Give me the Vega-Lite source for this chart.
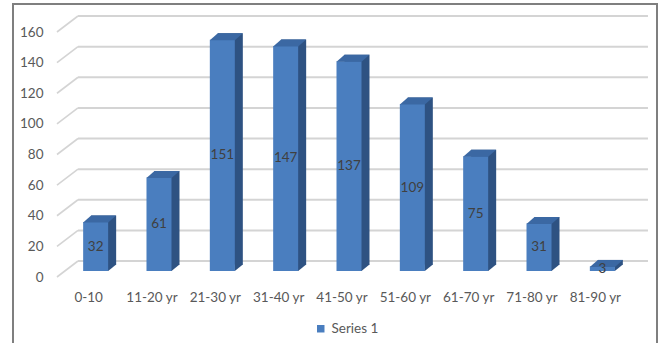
{
  "$schema": "https://vega.github.io/schema/vega-lite/v6.json",
  "width": 644,
  "height": 346,
  "autosize": {"type": "none"},
  "padding": {"left": 13, "top": 4, "right": 4, "bottom": 0},
  "background": "#ffffff",
  "datasets": {
    "ages": [
      {"age": "0-10", "n": 32},
      {"age": "11-20 yr", "n": 61},
      {"age": "21-30 yr", "n": 151},
      {"age": "31-40 yr", "n": 147},
      {"age": "41-50 yr", "n": 137},
      {"age": "51-60 yr", "n": 109},
      {"age": "61-70 yr", "n": 75},
      {"age": "71-80 yr", "n": 31},
      {"age": "81-90 yr", "n": 3}
    ],
    "grid": [
      {"g": 0}, {"g": 20}, {"g": 40}, {"g": 60}, {"g": 80},
      {"g": 100}, {"g": 120}, {"g": 140}, {"g": 160}
    ]
  },
  "data": {"name": "ages"},
  "layer": [
    {
      "layer": [
        {
          "data": {"name": "grid"},
          "mark": {"type": "rule", "color": "#d4d4d4", "strokeWidth": 2, "xOffset": 21, "x2Offset": 84.3, "yOffset": -16, "y2Offset": -16},
          "encoding": {
            "x": {"datum": "0-10", "type": "nominal", "bandPosition": 0, "title": null,
                  "scale": {"domain": ["0-10", "11-20 yr", "21-30 yr", "31-40 yr", "41-50 yr", "51-60 yr", "61-70 yr", "71-80 yr", "81-90 yr"], "paddingInner": 0, "paddingOuter": 0.584, "align": 0.5946}},
            "x2": {"datum": "81-90 yr", "bandPosition": 0},
            "y": {"field": "g", "type": "quantitative", "title": null,
                  "scale": {"domain": [-47.673, 178.286], "nice": false, "zero": false},
                  "axis": {"values": [0, 20, 40, 60, 80, 100, 120, 140, 160]}},
            "y2": {"field": "g"}
          }
        },
        {
          "data": {"name": "grid"},
          "mark": {"type": "rule", "color": "#d4d4d4", "strokeWidth": 1.6, "xOffset": 0, "x2Offset": 21, "yOffset": 0, "y2Offset": -16},
          "encoding": {
            "x": {"datum": "0-10", "type": "nominal", "bandPosition": 0, "title": null},
            "x2": {"datum": "0-10", "bandPosition": 0},
            "y": {"field": "g", "type": "quantitative", "title": null,
                  "scale": {"domain": [-47.673, 178.286], "nice": false, "zero": false},
                  "axis": {"values": [0, 20, 40, 60, 80, 100, 120, 140, 160]}},
            "y2": {"field": "g"}
          }
        },
        {
          "mark": {"type": "bar", "width": 25, "color": "#2e5282", "xOffset": 15, "yOffset": -12.5, "y2Offset": -12.5},
          "encoding": {
            "x": {"field": "age", "type": "nominal", "title": null},
            "y": {"field": "n", "type": "quantitative", "title": null,
                  "scale": {"domain": [-47.673, 178.286], "nice": false, "zero": false},
                  "axis": {"values": [0, 20, 40, 60, 80, 100, 120, 140, 160]}},
            "y2": {"datum": 0}
          }
        },
        {
          "mark": {"type": "point", "filled": true, "opacity": 1, "strokeWidth": 0, "size": 4, "color": "#2e5282",
                   "shape": "M19,-13L27.5,-13L27.5,-12.5L19.5,-6L19,-6Z"},
          "encoding": {
            "x": {"field": "age", "type": "nominal", "title": null},
            "y": {"datum": 0, "type": "quantitative",
                  "scale": {"domain": [-47.673, 178.286], "nice": false, "zero": false},
                  "axis": {"values": [0, 20, 40, 60, 80, 100, 120, 140, 160]}}
          }
        },
        {
          "mark": {"type": "bar", "width": 25, "xOffset": 7, "yOffset": -6, "y2Offset": -6},
          "encoding": {
            "x": {"field": "age", "type": "nominal", "title": null},
            "y": {"field": "n", "type": "quantitative", "title": null,
                  "scale": {"domain": [-47.673, 178.286], "nice": false, "zero": false},
                  "axis": {"values": [0, 20, 40, 60, 80, 100, 120, 140, 160]}},
            "y2": {"datum": 0},
            "color": {"datum": "Series 1", "type": "nominal",
                      "scale": {"range": ["#4a7ebf"]},
                      "legend": {"orient": "none", "legendX": 301, "legendY": 318, "title": null, "padding": 0,
                                 "symbolType": "square", "symbolSize": 56, "symbolStrokeWidth": 0,
                                 "labelFont": "Lato", "labelFontSize": 13.5, "labelColor": "#595959"}}
          }
        },
        {
          "mark": {"type": "point", "filled": true, "opacity": 1, "strokeWidth": 0, "size": 4, "color": "#3b68a3",
                   "shape": "M-5.5,-5.5L19.5,-5.5L27.5,-12.5L2.5,-12.5Z"},
          "encoding": {
            "x": {"field": "age", "type": "nominal", "title": null},
            "y": {"field": "n", "type": "quantitative", "title": null,
                  "scale": {"domain": [-47.673, 178.286], "nice": false, "zero": false},
                  "axis": {"values": [0, 20, 40, 60, 80, 100, 120, 140, 160]}}
          }
        }
      ]
    },
    {
      "mark": {"type": "text", "font": "Lato", "fontSize": 13.5, "color": "#404040", "dx": 7, "dy": -6, "baseline": "middle", "align": "center"},
      "encoding": {
        "x": {"field": "age", "type": "nominal", "title": null},
        "y": {"field": "n", "type": "quantitative", "axis": null,
              "scale": {"domain": [-95.346, 356.572], "nice": false, "zero": false}},
        "text": {"field": "n", "type": "quantitative"}
      }
    }
  ],
  "resolve": {"scale": {"y": "independent"}},
  "config": {
    "view": {"stroke": "#7f7f7f", "strokeWidth": 2},
    "axis": {"labelFont": "Lato", "labelFontSize": 13.5, "labelColor": "#595959", "domain": false, "ticks": false, "grid": false},
    "axisX": {"offset": -62, "labelPadding": 2, "labelAngle": 0},
    "axisY": {"offset": -32, "labelPadding": 2}
  }
}
